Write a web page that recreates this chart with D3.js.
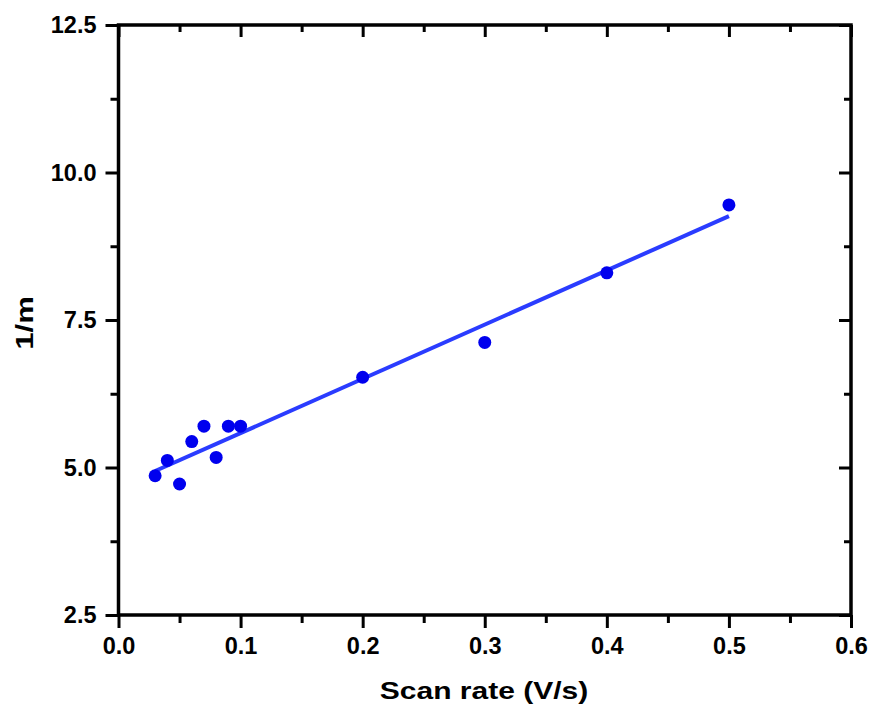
<!DOCTYPE html>
<html>
<head>
<meta charset="utf-8">
<script src="https://cdn.jsdelivr.net/npm/d3@7"></script>
<style>
  body { margin: 0; background: #fff; }
  text { font-family: Arial, "Liberation Sans", sans-serif; font-weight: bold; }
</style>
</head>
<body>
<div id="chart"></div>
<script>
'use strict';
// scan rate (V/s) and 1/m
var scanRate = [0.03, 0.04, 0.05, 0.06, 0.07, 0.08, 0.09, 0.10, 0.2, 0.3, 0.4, 0.5];
var invM = [4.86, 5.12, 4.72, 5.44, 5.70, 5.17, 5.70, 5.70, 6.53, 7.12, 8.30, 9.45];
// linear fit end points
var fitX = [0.03, 0.5];
var fitY = [4.94, 9.26];
var xTicks = [0, 0.1, 0.2, 0.3, 0.4, 0.5, 0.6];
var yTicks = [2.5, 5.0, 7.5, 10.0, 12.5];

var width = 875, height = 713;
var margin = {top: 25, right: 24, bottom: 98, left: 118.5};
var w = width - margin.left - margin.right,
    h = height - margin.top - margin.bottom;

var svg = d3.select('#chart').append('svg')
  .attr('width', width)
  .attr('height', height);

var g = svg.append('g')
  .attr('transform', 'translate(' + margin.left + ',' + margin.top + ')');

var x = d3.scaleLinear().domain([0, 0.6]).range([0, w]);
var y = d3.scaleLinear().domain([2.5, 12.5]).range([h, 0]);

var minorX = d3.range(0.05, 0.6, 0.1);
var minorY = [3.75, 6.25, 8.75, 11.25];

function styleAxis(sel) {
  sel.select('.domain').remove();
  sel.selectAll('line').attr('stroke', '#000').attr('stroke-width', 3);
  sel.selectAll('text').style('font-size', '23.5px').attr('fill', '#000');
}

// bottom axis
g.append('g')
  .attr('transform', 'translate(0,' + h + ')')
  .call(d3.axisBottom(x).tickValues(xTicks).tickFormat(d3.format('.1f')).tickSize(13).tickPadding(9))
  .call(styleAxis);
g.append('g')
  .attr('transform', 'translate(0,' + h + ')')
  .call(d3.axisBottom(x).tickValues(minorX).tickFormat('').tickSize(8))
  .call(styleAxis);

// left axis
g.append('g')
  .call(d3.axisLeft(y).tickValues(yTicks).tickFormat(d3.format('.1f')).tickSize(13).tickPadding(9))
  .call(styleAxis);
g.append('g')
  .call(d3.axisLeft(y).tickValues(minorY).tickFormat('').tickSize(8))
  .call(styleAxis);

// top axis, ticks inward
g.append('g')
  .call(d3.axisTop(x).tickValues(xTicks).tickFormat('').tickSize(-12))
  .call(styleAxis);
g.append('g')
  .call(d3.axisTop(x).tickValues(minorX).tickFormat('').tickSize(-7))
  .call(styleAxis);

// right axis, ticks inward
g.append('g')
  .attr('transform', 'translate(' + w + ',0)')
  .call(d3.axisRight(y).tickValues(yTicks).tickFormat('').tickSize(-12))
  .call(styleAxis);
g.append('g')
  .attr('transform', 'translate(' + w + ',0)')
  .call(d3.axisRight(y).tickValues(minorY).tickFormat('').tickSize(-7))
  .call(styleAxis);

// frame
g.append('rect')
  .attr('width', w)
  .attr('height', h)
  .attr('fill', 'none')
  .attr('stroke', '#000')
  .attr('stroke-width', 3.5);

// fit line
var line = d3.line()
  .x(function(d) { return x(d[0]); })
  .y(function(d) { return y(d[1]); });
g.append('path')
  .datum(d3.zip(fitX, fitY))
  .attr('d', line)
  .attr('fill', 'none')
  .attr('stroke', '#2a3cff')
  .attr('stroke-width', 4);

// points
g.selectAll('.dot')
  .data(d3.zip(scanRate, invM))
  .enter()
  .append('circle')
  .attr('class', 'dot')
  .attr('cx', function(d) { return x(d[0]); })
  .attr('cy', function(d) { return y(d[1]); })
  .attr('r', 6.5)
  .attr('fill', '#0000ee');

// axis titles (the original lettering is a bit wider than Arial)
svg.append('text')
  .attr('transform', 'translate(484,699) scale(1.25,1)')
  .attr('text-anchor', 'middle')
  .style('font-size', '24px')
  .text('Scan rate (V/s)');

svg.append('text')
  .attr('transform', 'translate(33,323) rotate(-90) scale(1.3,1)')
  .attr('text-anchor', 'middle')
  .style('font-size', '24px')
  .text('1/m');
</script>
</body>
</html>
